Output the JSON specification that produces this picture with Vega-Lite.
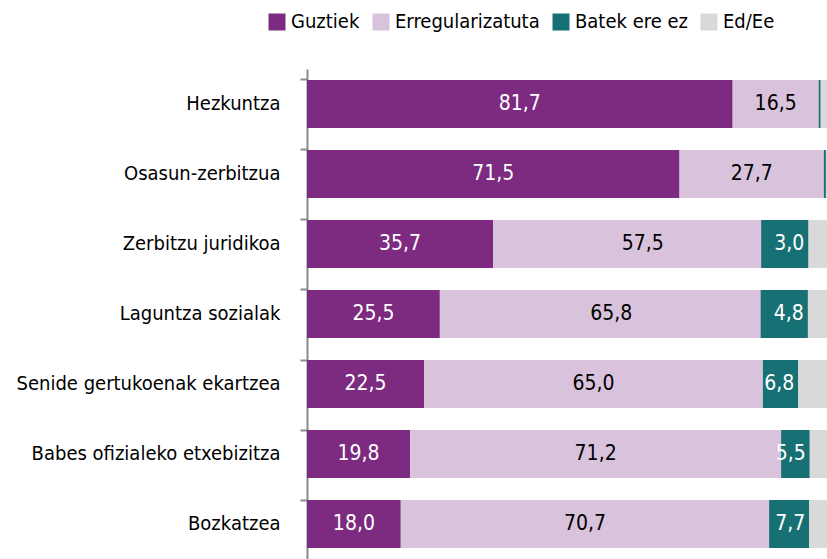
{
  "$schema": "https://vega.github.io/schema/vega-lite/v6.json",
  "width": 521,
  "height": 490,
  "autosize": {"type": "none"},
  "padding": {"left": 307, "top": 69, "right": 0, "bottom": 0},
  "background": "white",
  "config": {
    "locale": {"number": {"decimal": ",", "thousands": ".", "grouping": [3], "currency": ["", " €"]}},
    "view": {"stroke": null},
    "font": "DejaVu Sans Condensed, Roboto Condensed, Roboto, sans-serif"
  },
  "data": {
    "values": [
      {"item": "Hezkuntza", "cat": "Guztiek", "ord": 1, "value": 81.7},
      {"item": "Hezkuntza", "cat": "Erregularizatuta", "ord": 2, "value": 16.5},
      {"item": "Hezkuntza", "cat": "Batek ere ez", "ord": 3, "value": 0.4},
      {"item": "Hezkuntza", "cat": "Ed/Ee", "ord": 4, "value": 1.4},
      {"item": "Osasun-zerbitzua", "cat": "Guztiek", "ord": 1, "value": 71.5},
      {"item": "Osasun-zerbitzua", "cat": "Erregularizatuta", "ord": 2, "value": 27.7},
      {"item": "Osasun-zerbitzua", "cat": "Batek ere ez", "ord": 3, "value": 0.4},
      {"item": "Osasun-zerbitzua", "cat": "Ed/Ee", "ord": 4, "value": 0.4},
      {"item": "Zerbitzu juridikoa", "cat": "Guztiek", "ord": 1, "value": 35.7},
      {"item": "Zerbitzu juridikoa", "cat": "Erregularizatuta", "ord": 2, "value": 57.5},
      {"item": "Zerbitzu juridikoa", "cat": "Batek ere ez", "ord": 3, "value": 3.0},
      {"item": "Zerbitzu juridikoa", "cat": "Ed/Ee", "ord": 4, "value": 3.8},
      {"item": "Laguntza sozialak", "cat": "Guztiek", "ord": 1, "value": 25.5},
      {"item": "Laguntza sozialak", "cat": "Erregularizatuta", "ord": 2, "value": 65.8},
      {"item": "Laguntza sozialak", "cat": "Batek ere ez", "ord": 3, "value": 4.8},
      {"item": "Laguntza sozialak", "cat": "Ed/Ee", "ord": 4, "value": 3.9},
      {"item": "Senide gertukoenak  ekartzea", "cat": "Guztiek", "ord": 1, "value": 22.5},
      {"item": "Senide gertukoenak  ekartzea", "cat": "Erregularizatuta", "ord": 2, "value": 65.0},
      {"item": "Senide gertukoenak  ekartzea", "cat": "Batek ere ez", "ord": 3, "value": 6.8},
      {"item": "Senide gertukoenak  ekartzea", "cat": "Ed/Ee", "ord": 4, "value": 5.7},
      {"item": "Babes ofizialeko etxebizitza", "cat": "Guztiek", "ord": 1, "value": 19.8},
      {"item": "Babes ofizialeko etxebizitza", "cat": "Erregularizatuta", "ord": 2, "value": 71.2},
      {"item": "Babes ofizialeko etxebizitza", "cat": "Batek ere ez", "ord": 3, "value": 5.5},
      {"item": "Babes ofizialeko etxebizitza", "cat": "Ed/Ee", "ord": 4, "value": 3.5},
      {"item": "Bozkatzea", "cat": "Guztiek", "ord": 1, "value": 18.0},
      {"item": "Bozkatzea", "cat": "Erregularizatuta", "ord": 2, "value": 70.7},
      {"item": "Bozkatzea", "cat": "Batek ere ez", "ord": 3, "value": 7.7},
      {"item": "Bozkatzea", "cat": "Ed/Ee", "ord": 4, "value": 3.6}
    ]
  },
  "transform": [
    {"stack": "value", "groupby": ["item"], "sort": [{"field": "ord", "order": "ascending"}], "as": ["x0", "x1"]},
    {"calculate": "(datum.x0 + datum.x1) / 2", "as": "xm"}
  ],
  "encoding": {
    "y": {
      "field": "item",
      "type": "nominal",
      "sort": null,
      "scale": {"paddingInner": 0.3143, "paddingOuter": 0.157},
      "axis": {
        "title": null,
        "bandPosition": 0,
        "domainColor": "#8a8a8a",
        "domainWidth": 2,
        "tickColor": "#8a8a8a",
        "tickWidth": 2,
        "tickSize": 7,
        "labelPadding": 20,
        "labelFontSize": 20,
        "labelLimit": 400,
        "labelColor": "#000000"
      }
    }
  },
  "layer": [
    {
      "mark": {"type": "bar"},
      "encoding": {
        "x": {"field": "x0", "type": "quantitative", "scale": {"domain": [0, 100], "nice": false}, "axis": null},
        "x2": {"field": "x1"},
        "color": {
          "field": "cat",
          "type": "nominal",
          "sort": ["Guztiek", "Erregularizatuta", "Batek ere ez", "Ed/Ee"],
          "scale": {
            "domain": ["Guztiek", "Erregularizatuta", "Batek ere ez", "Ed/Ee"],
            "range": ["#7c2b80", "#d9c3dc", "#177174", "#d9d9d9"]
          },
          "legend": {
            "orient": "none",
            "legendX": -40,
            "legendY": -57,
            "direction": "horizontal",
            "title": null,
            "symbolType": "square",
            "symbolSize": 289,
            "symbolStrokeWidth": 0,
            "labelFontSize": 20,
            "labelLimit": 300,
            "labelColor": "#000000",
            "labelOffset": 4,
            "columnPadding": 11
          }
        }
      }
    },
    {
      "transform": [{"filter": "datum.cat == 'Batek ere ez' && datum.value >= 2 && datum.value < 5"}],
      "mark": {"type": "bar", "color": "#177174", "xOffset": -47},
      "encoding": {
        "x": {"field": "x1", "type": "quantitative"},
        "x2": {"field": "x1"}
      }
    },
    {
      "transform": [{"filter": "datum.cat == 'Guztiek' || datum.cat == 'Erregularizatuta'"}],
      "mark": {"type": "text", "fontSize": 21},
      "encoding": {
        "x": {"field": "xm", "type": "quantitative"},
        "text": {"field": "value", "type": "quantitative", "format": ".1f"},
        "color": {
          "condition": {"test": "datum.cat == 'Guztiek'", "value": "#ffffff"},
          "value": "#000000"
        }
      }
    },
    {
      "transform": [{"filter": "datum.cat == 'Batek ere ez' && datum.value >= 2"}],
      "mark": {"type": "text", "fontSize": 21, "align": "right", "dx": -4, "color": "#ffffff"},
      "encoding": {
        "x": {"field": "x1", "type": "quantitative"},
        "text": {"field": "value", "type": "quantitative", "format": ".1f"}
      }
    }
  ]
}
